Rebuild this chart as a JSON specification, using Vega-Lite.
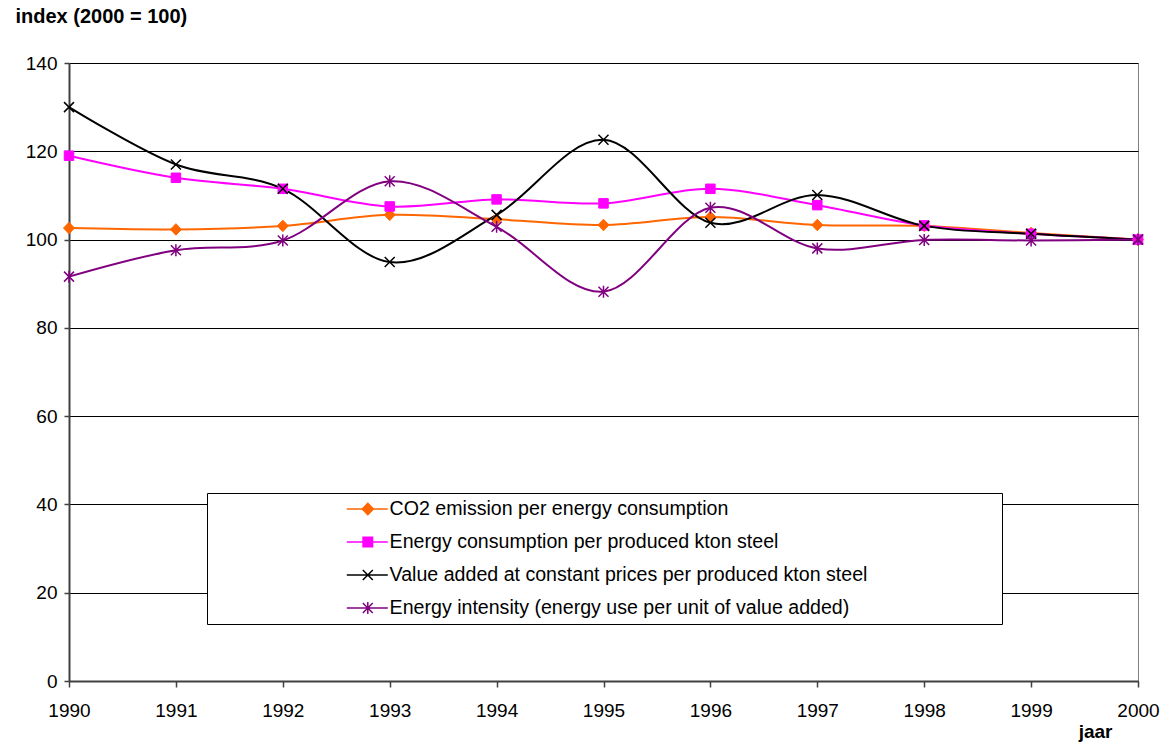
{
  "$schema": "https://vega.github.io/schema/vega-lite/v6.json",
  "width": 1069,
  "height": 618,
  "autosize": "none",
  "padding": {"left": 69, "top": 63, "right": 26, "bottom": 64},
  "background": "white",
  "data": {
    "values": [
      {"jaar": 1990, "CO2 emission per energy consumption": 102.6, "Energy consumption per produced kton steel": 119.0, "Value added at constant prices per produced kton steel": 130.0, "Energy intensity (energy use per unit of value added)": 91.6},
      {"jaar": 1991, "CO2 emission per energy consumption": 102.3, "Energy consumption per produced kton steel": 114.0, "Value added at constant prices per produced kton steel": 117.0, "Energy intensity (energy use per unit of value added)": 97.6},
      {"jaar": 1992, "CO2 emission per energy consumption": 103.1, "Energy consumption per produced kton steel": 111.5, "Value added at constant prices per produced kton steel": 111.5, "Energy intensity (energy use per unit of value added)": 99.8},
      {"jaar": 1993, "CO2 emission per energy consumption": 105.6, "Energy consumption per produced kton steel": 107.5, "Value added at constant prices per produced kton steel": 94.9, "Energy intensity (energy use per unit of value added)": 113.2},
      {"jaar": 1994, "CO2 emission per energy consumption": 104.6, "Energy consumption per produced kton steel": 109.1, "Value added at constant prices per produced kton steel": 105.6, "Energy intensity (energy use per unit of value added)": 102.9},
      {"jaar": 1995, "CO2 emission per energy consumption": 103.3, "Energy consumption per produced kton steel": 108.2, "Value added at constant prices per produced kton steel": 122.6, "Energy intensity (energy use per unit of value added)": 88.2},
      {"jaar": 1996, "CO2 emission per energy consumption": 105.1, "Energy consumption per produced kton steel": 111.5, "Value added at constant prices per produced kton steel": 103.8, "Energy intensity (energy use per unit of value added)": 107.2},
      {"jaar": 1997, "CO2 emission per energy consumption": 103.3, "Energy consumption per produced kton steel": 107.8, "Value added at constant prices per produced kton steel": 110.1, "Energy intensity (energy use per unit of value added)": 98.0},
      {"jaar": 1998, "CO2 emission per energy consumption": 103.1, "Energy consumption per produced kton steel": 103.2, "Value added at constant prices per produced kton steel": 103.1, "Energy intensity (energy use per unit of value added)": 99.9},
      {"jaar": 1999, "CO2 emission per energy consumption": 101.5, "Energy consumption per produced kton steel": 101.3, "Value added at constant prices per produced kton steel": 101.3, "Energy intensity (energy use per unit of value added)": 99.8},
      {"jaar": 2000, "CO2 emission per energy consumption": 100.0, "Energy consumption per produced kton steel": 100.0, "Value added at constant prices per produced kton steel": 100.0, "Energy intensity (energy use per unit of value added)": 100.0}
    ]
  },
  "transform": [
    {
      "fold": [
        "CO2 emission per energy consumption",
        "Energy consumption per produced kton steel",
        "Value added at constant prices per produced kton steel",
        "Energy intensity (energy use per unit of value added)"
      ],
      "as": ["series", "value"]
    }
  ],
  "encoding": {
    "x": {
      "field": "jaar",
      "type": "quantitative",
      "scale": {"domain": [1990, 2000], "nice": false, "zero": false},
      "axis": {
        "title": "jaar",
        "values": [1990, 1991, 1992, 1993, 1994, 1995, 1996, 1997, 1998, 1999, 2000],
        "format": "d",
        "grid": false,
        "labelFlush": false,
        "tickSize": 6,
        "labelPadding": 14,
        "titleX": 1043,
        "titleY": 56,
        "titleAlign": "right",
        "titleBaseline": "alphabetic",
        "titleAnchor": null
      }
    },
    "y": {
      "field": "value",
      "type": "quantitative",
      "scale": {"domain": [0, 140], "nice": false},
      "axis": {
        "title": "index (2000 = 100)",
        "values": [0, 20, 40, 60, 80, 100, 120, 140],
        "grid": true,
        "tickSize": 5,
        "labelPadding": 7,
        "titleAngle": 0,
        "titleAlign": "left",
        "titleBaseline": "alphabetic",
        "titleX": -54,
        "titleY": -41,
        "titleAnchor": null,
        "titleFontSize": 20
      }
    }
  },
  "layer": [
    {
      "mark": {"type": "line", "interpolate": "cardinal", "strokeWidth": 2},
      "encoding": {
        "color": {
          "field": "series",
          "type": "nominal",
          "sort": null,
          "scale": {
            "domain": [
              "CO2 emission per energy consumption",
              "Energy consumption per produced kton steel",
              "Value added at constant prices per produced kton steel",
              "Energy intensity (energy use per unit of value added)"
            ],
            "range": ["#FF6600", "#FF00FF", "#000000", "#800080"]
          },
          "legend": {
            "orient": "none",
            "legendX": 138,
            "legendY": 430,
            "direction": "vertical",
            "title": " ",
            "titleOrient": "right",
            "titlePadding": 129,
            "padding": 6,
            "rowPadding": 13,
            "clipHeight": 20,
            "symbolSize": 100,
            "symbolStrokeWidth": 1.5,
            "symbolOffset": 145,
            "labelOffset": 12,
            "labelFontSize": 19.6,
            "labelLimit": 800,
            "labelColor": "#000000",
            "strokeColor": "#000000",
            "fillColor": "#FFFFFF",
            "encode": {
              "symbols": {
                "update": {
                  "shape": {"signal": "datum.value === 'CO2 emission per energy consumption' ? 'M-4.2,0H4M0,-1.15L1.1,0L0,1.15L-1.1,0Z' : datum.value === 'Energy consumption per produced kton steel' ? 'M-4.2,0H4M-0.95,-0.95H0.95V0.95H-0.95Z' : datum.value === 'Value added at constant prices per produced kton steel' ? 'M-4.2,0H4M-1,-1L1,1M-1,1L1,-1' : 'M-4.2,0H4M-1,-1L1,1M-1,1L1,-1M0,-1.2V1.2'"},
                  "fill": {"signal": "datum.value === 'CO2 emission per energy consumption' ? '#FF6600' : datum.value === 'Energy consumption per produced kton steel' ? '#FF00FF' : 'transparent'"},
                  "stroke": {"signal": "scale('color', datum.value)"},
                  "strokeWidth": {"value": 1.5},
                  "opacity": {"value": 1}
                }
              }
            }
          }
        }
      }
    },
    {
      "transform": [{"filter": "datum.series === 'CO2 emission per energy consumption'"}],
      "mark": {"type": "point", "shape": "M0,-1.15L1.1,0L0,1.15L-1.1,0Z", "filled": true, "fill": "#FF6600", "stroke": "#FF6600", "strokeWidth": 1, "opacity": 1, "size": 100}
    },
    {
      "transform": [{"filter": "datum.series === 'Energy consumption per produced kton steel'"}],
      "mark": {"type": "point", "shape": "M-0.95,-0.95H0.95V0.95H-0.95Z", "filled": true, "fill": "#FF00FF", "stroke": "#FF00FF", "strokeWidth": 1, "opacity": 1, "size": 100}
    },
    {
      "transform": [{"filter": "datum.series === 'Value added at constant prices per produced kton steel'"}],
      "mark": {"type": "point", "shape": "M-1,-1L1,1M-1,1L1,-1", "filled": false, "fill": "transparent", "stroke": "#000000", "strokeWidth": 1.5, "opacity": 1, "size": 100}
    },
    {
      "transform": [{"filter": "datum.series === 'Energy intensity (energy use per unit of value added)'"}],
      "mark": {"type": "point", "shape": "M-1,-1L1,1M-1,1L1,-1M0,-1.2V1.2", "filled": false, "fill": "transparent", "stroke": "#800080", "strokeWidth": 1.5, "opacity": 1, "size": 100}
    }
  ],
  "config": {
    "font": "Liberation Sans",
    "view": {"stroke": "#808080", "strokeWidth": 1},
    "axis": {
      "labelFont": "Liberation Sans",
      "labelFontSize": 19,
      "labelFontWeight": "normal",
      "labelColor": "#000000",
      "titleFont": "Liberation Sans",
      "titleFontSize": 19,
      "titleFontWeight": "bold",
      "titleColor": "#000000",
      "domainColor": "#404040",
      "domainWidth": 2,
      "tickColor": "#404040",
      "tickWidth": 1.5,
      "gridColor": "#000000",
      "gridWidth": 1,
      "gridOpacity": 1
    },
    "legend": {"labelFont": "Liberation Sans"}
  }
}
